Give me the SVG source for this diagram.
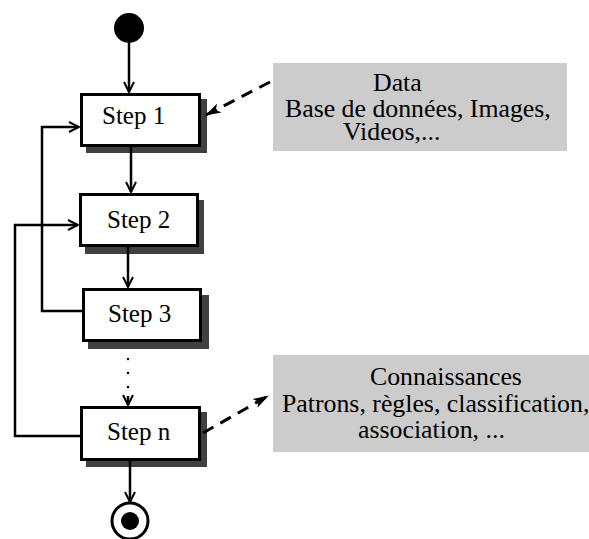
<svg xmlns="http://www.w3.org/2000/svg" width="589" height="539" viewBox="0 0 589 539">
<style>
.box{fill:#ffffff;stroke:#000000;stroke-width:3}
.shadow{fill:#404040}
.note{fill:#cccccc}
.t{font-family:"Liberation Serif","Times New Roman",serif;font-size:25px;fill:#000000}
.n{font-family:"Liberation Serif","Times New Roman",serif;font-size:25.8px;fill:#000000}
.c{fill:none;stroke:#000000;stroke-width:2.5}
.d{fill:none;stroke:#000000;stroke-width:3;stroke-dasharray:12 8}
.dot{fill:none;stroke:#000000;stroke-width:2.5;stroke-dasharray:0 14;stroke-linecap:round}
</style>
<defs>
<marker id="open" viewBox="0 0 12 12" refX="11" refY="6" markerWidth="12" markerHeight="12" markerUnits="userSpaceOnUse" orient="auto">
<path d="M1,1 L11,6 L1,11" fill="none" stroke="#000" stroke-width="2"/>
</marker>
<marker id="fill" viewBox="0 0 16 10" refX="15" refY="5" markerWidth="16" markerHeight="10" markerUnits="userSpaceOnUse" orient="auto">
<path d="M0,0 L16,5 L0,10 L4,5 Z" fill="#000"/>
</marker>
</defs>
<g id="start"><circle cx="129" cy="28" r="15" fill="#000"/></g>
<g id="step1">
<rect class="shadow" x="86" y="99" width="121" height="54"/>
<rect class="box" x="81.5" y="94.5" width="118" height="51"/>
<text class="t" x="102" y="124">Step 1</text>
</g>
<g id="step2">
<rect class="shadow" x="85" y="200" width="119" height="54"/>
<rect class="box" x="80.5" y="194.5" width="117" height="51"/>
<text class="t" x="107" y="228">Step 2</text>
</g>
<g id="step3">
<rect class="shadow" x="88" y="295" width="121" height="54"/>
<rect class="box" x="83.5" y="289.5" width="117" height="51"/>
<text class="t" x="108" y="322">Step 3</text>
</g>
<g id="stepn">
<rect class="shadow" x="86" y="412" width="121" height="55"/>
<rect class="box" x="81.5" y="407.5" width="118" height="52"/>
<text class="t" x="107" y="440">Step n</text>
</g>
<g id="end">
<circle cx="130" cy="521" r="18" fill="#fff" stroke="#000" stroke-width="3"/>
<circle cx="130" cy="521" r="9" fill="#000"/>
</g>
<g id="data">
<rect class="note" x="273" y="63" width="294" height="88"/>
<text class="n" x="373" y="91">Data</text>
<text class="n" x="285" y="117">Base de données, Images,</text>
<text class="n" x="343" y="140">Videos,...</text>
</g>
<g id="connaissances">
<rect class="note" x="273" y="355" width="316" height="97"/>
<text class="n" x="370" y="385">Connaissances</text>
<text class="n" x="282" y="412">Patrons, règles, classification,</text>
<text class="n" x="358" y="438">association, ...</text>
</g>
<g id="connectors">
<line class="c" x1="129" y1="43" x2="129" y2="92" marker-end="url(#open)"/>
<line class="c" x1="131" y1="147" x2="131" y2="192" marker-end="url(#open)"/>
<line class="c" x1="128" y1="247" x2="128" y2="287" marker-end="url(#open)"/>
<line class="dot" x1="128" y1="359" x2="128" y2="395"/>
<line class="c" x1="128" y1="396" x2="128" y2="405" marker-end="url(#open)"/>
<line class="c" x1="130" y1="461" x2="130" y2="502" marker-end="url(#open)"/>
<polyline class="c" points="82,311 42,311 42,127 79,127" marker-end="url(#open)"/>
<polyline class="c" points="80,436 15,436 15,225 78,225" marker-end="url(#open)"/>
<line class="d" x1="270" y1="82" x2="206" y2="115" marker-end="url(#fill)"/>
<line class="d" x1="203" y1="433" x2="268" y2="396" marker-end="url(#fill)"/>
</g>
</svg>
